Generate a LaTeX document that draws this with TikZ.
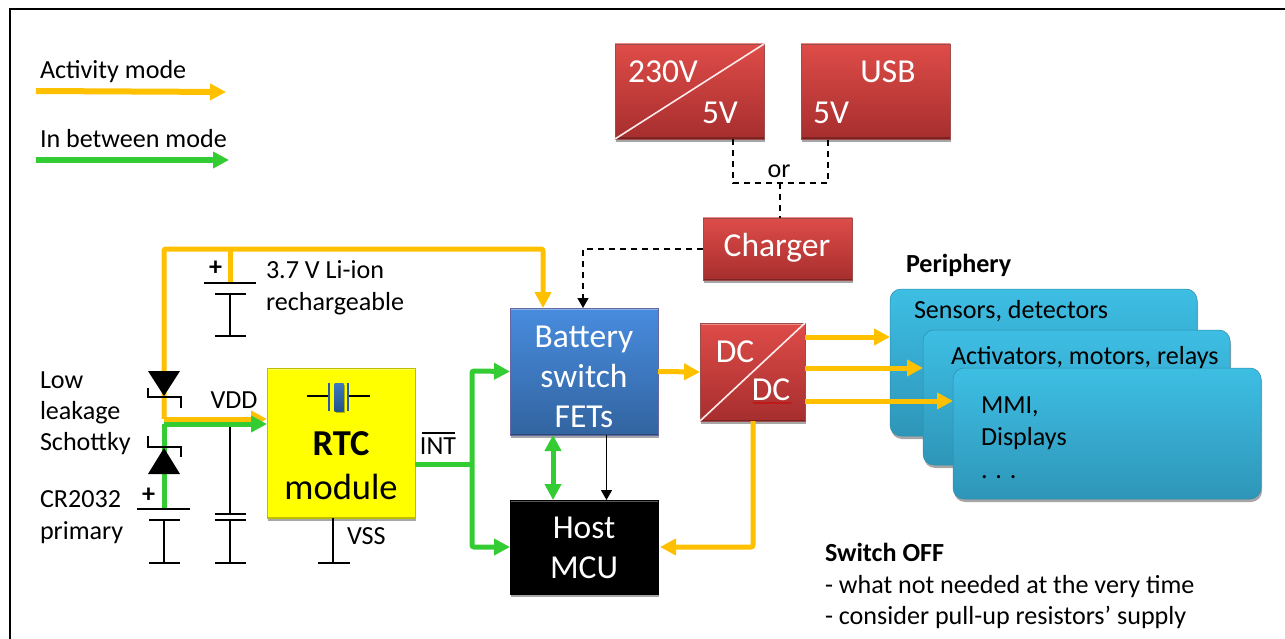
\documentclass[tikz,border=0pt]{standalone}
\usepackage{fontspec}
\setmainfont{Carlito}
\usetikzlibrary{arrows.meta,shadows,decorations.pathmorphing}
\definecolor{wireO}{HTML}{FFC000}
\definecolor{wireG}{HTML}{33CC33}
\definecolor{rtcY}{RGB}{255,255,0}
\tikzset{
  x=1pt,y=-1pt,
  lbl/.style={anchor=west,inner sep=0,outer sep=0,yshift=-1.5pt,text height=17pt,text depth=5pt,font=\fontsize{26.1}{31}\selectfont},
  lblc/.style={lbl,anchor=center},
  lblb/.style={lbl,font=\fontsize{26.1}{31}\selectfont\bfseries},
  bevel/.style={path picture={
    \draw[white,opacity=.35,line width=3pt] (path picture bounding box.north west)--(path picture bounding box.north east);
    \draw[black,opacity=.25,line width=3pt] (path picture bounding box.south west)--(path picture bounding box.south east);}},
  box/.style={inner sep=0,outer sep=0,align=center,text=white,bevel,
    drop shadow={shadow xshift=1pt,shadow yshift=-3pt,opacity=.35,fill=black}},
  bigw/.style={text=white,inner sep=0,align=center,font=\fontsize{33.5}{40}\selectfont},
  redbox/.style={box,draw=red!45!black!70,line width=.4pt,
    top color={rgb,255:red,222;green,76;blue,72},bottom color={rgb,255:red,166;green,46;blue,46},font=\fontsize{33.5}{40}\selectfont},
  bluebox/.style={box,draw=blue!40!black!60,line width=.4pt,top color={rgb,255:red,72;green,140;blue,222},bottom color={rgb,255:red,50;green,100;blue,160},font=\fontsize{33.5}{40}\selectfont},
  blackbox/.style={box,draw=black,line width=.4pt,fill=black},
  yellowbox/.style={box,draw={rgb,255:red,190;green,190;blue,0},line width=.4pt,fill=rtcY,text=black},
  periph/.style={inner sep=0,outer sep=0,rounded corners=11pt,draw={rgb,255:red,45;green,140;blue,170},line width=.5pt,
    top color={rgb,255:red,62;green,190;blue,228},bottom color={rgb,255:red,46;green,150;blue,184},
    drop shadow={shadow xshift=1pt,shadow yshift=-3pt,opacity=.35,fill=black}},
  oarrow/.style={draw=wireO,line width=5pt,rounded corners=2pt,-{Triangle[length=16pt,width=16pt]}},
  garrow/.style={draw=wireG,line width=5pt,rounded corners=2pt,-{Triangle[length=16pt,width=16pt]}},
  owire/.style={draw=wireO,line width=5pt,rounded corners=2pt},
  gwire/.style={draw=wireG,line width=5pt,rounded corners=2pt},
  dashwire/.style={draw=black,line width=1.5pt,dash pattern=on 6pt off 5pt},
  dasharrow/.style={dashwire,-{Triangle[length=10pt,width=11pt]}},
  thinarrow/.style={draw=black,line width=1.5pt,-{Triangle[length=10pt,width=11pt]}},
  sym/.style={draw=black,line width=2.2pt},
  diagonal/.style={draw=white!92!red,line width=1.6pt},
}
\begin{document}
\begin{tikzpicture}
\useasboundingbox (0,0) rectangle (1285,639);
\coordinate (fTL) at (10,9); \coordinate (fTR) at (1285,9); \coordinate (fBL) at (10,639);
\draw[black,line width=2pt] (fTR)--(fTL)--(fBL);

% legend
\node[lbl] (legA) at (40,71) {Activity mode};
\coordinate (legAs) at (36,91); \coordinate (legAe) at (226,92);
\draw[oarrow,line width=6pt] (legAs)--(legAe);
\node[lbl] (legB) at (40,140) {In between mode};
\coordinate (legBs) at (36,160); \coordinate (legBe) at (229,160);
\draw[garrow,line width=6pt] (legBs)--(legBe);

% red supplies
\node[redbox,minimum width=149,minimum height=95] (ac) at (689.5,91.5) {};
\draw[diagonal] (ac.south west)--(ac.north east);
\node[bigw] (acA) at (663,72) {230V};
\node[bigw] (acB) at (720,113) {5V};
\node[redbox,minimum width=149,minimum height=95] (usb) at (875.5,91.5) {};
\node[bigw] (usbA) at (888,72) {USB};
\node[bigw] (usbB) at (831,113) {5V};
\node[redbox,minimum width=149,minimum height=62] (chg) at (777.5,249) {};
\node[bigw] (chgT) at (777,247.5) {Charger};

% dashed
\coordinate (acb) at (733,139); \coordinate (usbb) at (828,139);
\coordinate (orL) at (733,183); \coordinate (orR) at (828,183); \coordinate (orM) at (780,183); \coordinate (chgN) at (780,218);
\draw[dashwire] (acb)--(orL)--(orR)--(usbb);
\draw[dashwire] (orM)--(chgN);
\node[lblc] (orT) at (779,170) {or};

% main boxes
\node[bluebox,minimum width=148,minimum height=127] (bat) at (584,371.5) {};
\node[bigw] (batT) at (584,377) {Battery\\switch\\FETs};
\node[redbox,minimum width=105,minimum height=98] (dc) at (752.5,372) {};
\draw[diagonal] (dc.south west)--(dc.north east);
\node[bigw] (dcA) at (735,352) {DC};
\node[bigw] (dcB) at (771,390) {DC};
\coordinate (sqL) at (753,403); \coordinate (sqR) at (792,403);
\draw[red!80!black,line width=.5pt,decorate,decoration={snake,amplitude=.7pt,segment length=3pt}] (sqL)--(sqR);
\node[blackbox,minimum width=148,minimum height=94] (mcu) at (584,547) {};
\node[bigw] (mcuT) at (584,548) {Host\\MCU};
\node[yellowbox,minimum width=148,minimum height=150] (rtc) at (341,443) {};
\node[inner sep=0,text=black,align=center,font=\fontsize{36.5}{44.5}\selectfont] (rtcT) at (341,465.5) {\textbf{RTC}\\module};

% crystal
\coordinate (xL) at (307,396); \coordinate (xR) at (370,396);
\coordinate (xA) at (329,396); \coordinate (xB) at (348,396);
\draw[sym,line width=1.3pt] (xL)--(xA) (xB)--(xR);
\draw[line width=2pt,draw={rgb,255:red,40;green,90;blue,170}] (329,383)--(329,411) (348,383)--(348,411);
\node[inner sep=0,outer sep=0,minimum width=9,minimum height=28,top color={rgb,255:red,60;green,120;blue,190},bottom color={rgb,255:red,35;green,85;blue,140},
      drop shadow={shadow xshift=1pt,shadow yshift=-2pt,opacity=.3,fill=black}] (xtal) at (339,397) {};

% periphery
\node[periph,minimum width=307,minimum height=147] (p1) at (1043.5,362.5) {};
\node[periph,minimum width=307,minimum height=135] (p2) at (1076.5,397.5) {};
\node[periph,minimum width=308,minimum height=131] (p3) at (1107,433.5) {};
\node[lblb] (perT) at (906,265) {Periphery};
\node[lbl] (p1T) at (914,311) {Sensors, detectors};
\node[lbl] (p2T) at (951,357) {Activators, motors, relays};
\node[lbl] (p3Ta) at (981,406) {MMI,};
\node[lbl] (p3Tb) at (981,438) {Displays};
\node[lbl] (p3Tc) at (981,471) {. . .};

% batteries etc
\coordinate (topL) at (164,249); \coordinate (topT) at (230,249); \coordinate (topR) at (543,249);
\coordinate (liP) at (230,283); \coordinate (batN) at (543,308);
\coordinate (bend) at (164,419); \coordinate (rtcO) at (267,419);
\coordinate (gbend) at (164,424); \coordinate (rtcG) at (267,424);
\coordinate (crP) at (164,509);

\draw[oarrow] (bend)--(topL)--(topR)--(batN);
\draw[owire] (topT)--(liP);
\draw[oarrow] (bend)--(rtcO);
\draw[gwire] (crP)--(gbend);
\draw[garrow] (gbend)--(rtcG);

% Li-ion
\draw[sym] (204,283)--(256,283) (215,294)--(246,294) (230,294)--(230,336) (215,336)--(246,336);
\node[lblb,text height=10pt,text depth=1pt] (liPlus) at (209,270) {+};
\node[lbl] (liA) at (266,271) {3.7 V Li-ion};
\node[lbl] (liB) at (266,303) {rechargeable};
% CR2032
\draw[sym] (137,509)--(190,509) (149,520)--(180,520) (164,520)--(164,563) (149,563)--(180,563);
\node[lblb,text height=10pt,text depth=1pt] (crPlus) at (142,496) {+};
% cap
\draw[sym] (230,427)--(230,514) (215,514)--(246,514) (215,520)--(246,520) (230,520)--(230,563) (215,563)--(246,563);
% vss
\coordinate (vssB) at (333,563);
\draw[sym] (333,518)--(vssB) (318,563)--(350,563);
\node[lbl] (vss) at (347,537) {VSS};
\node[lblc] (vdd) at (234,401) {VDD};

% diodes
\fill[black] (148,371)--(180,371)--(164,396)--cycle;
\draw[sym] (148,388)--(148,397)--(181,397)--(181,408);
\fill[black] (148,474)--(180,474)--(164,448)--cycle;
\draw[sym] (148,436)--(148,447)--(181,447)--(181,457);

\node[lbl] (t1) at (40,381) {Low};
\node[lbl] (t2) at (40,412) {leakage};
\node[lbl] (t3) at (40,443) {Schottky};
\node[lbl] (t4) at (40,500) {CR2032};
\node[lbl] (t5) at (40,532) {primary};

% INT and green
\node[lblc] (int) at (438,447) {INT};
\coordinate (intL) at (422,433); \coordinate (intR) at (455,433);
\draw[black,line width=1.2pt] (intL)--(intR);
\coordinate (gj) at (472,464);
\draw[gwire] (rtc.east |- gj)--(gj);
\draw[garrow] (gj)--(472,371)--(bat.west);
\draw[garrow] (gj)--(472,547)--(mcu.west);
\draw[garrow,{Triangle[length=16pt,width=16pt]}-{Triangle[length=16pt,width=16pt]}] (553,435)--(553,500);
\draw[thinarrow] (606.5,435)--(606.5,500);

% orange right
\draw[oarrow] (bat.east)--(dc.west);
\coordinate (dcb) at (753,421); \coordinate (dcc) at (753,547);
\draw[oarrow] (dcb)--(dcc)--(660,547);
\coordinate (o1) at (805,337); \coordinate (o2) at (805,368); \coordinate (o3) at (805,401);
\draw[oarrow] (o1)--(890,337);
\draw[oarrow] (o2)--(923,368);
\draw[oarrow] (o3)--(953,401);

% charger to battery
\coordinate (cb) at (583,249); \coordinate (cbb) at (583,308);
\draw[dasharrow] (chg.west)--(cb)--(cbb);

% switch off
\node[lblb] (s0) at (825,554) {Switch OFF};
\node[lbl] (s1) at (825,586) {- what not needed at the very time};
\node[lbl] (s2) at (825,617) {- consider pull-up resistors’ supply};
\end{tikzpicture}
\end{document}
